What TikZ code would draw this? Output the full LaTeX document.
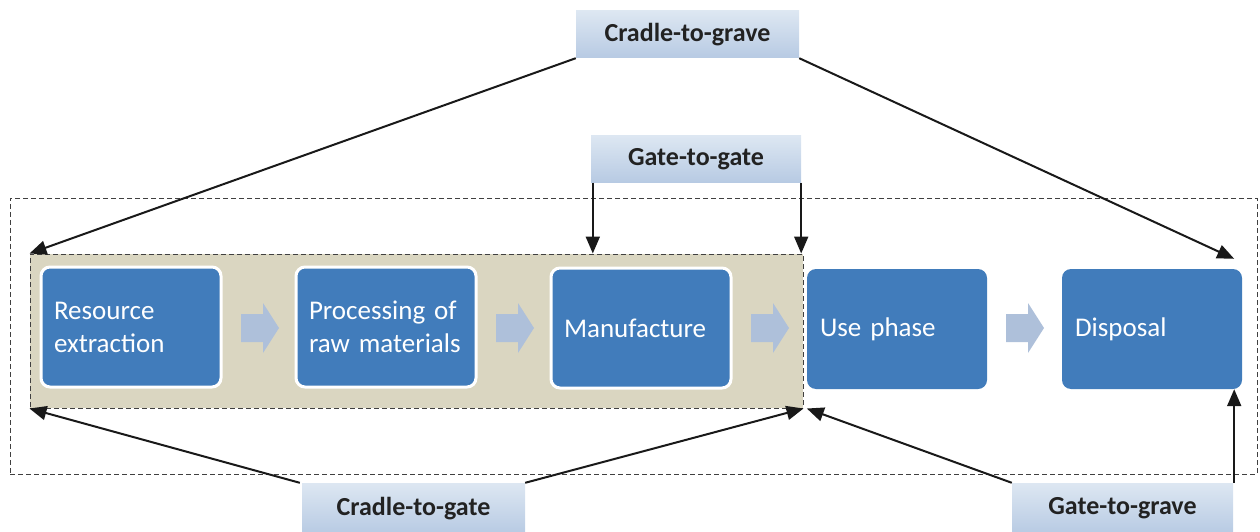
\documentclass[tikz,border=0pt]{standalone}
\usepackage{fontspec}
\setmainfont[WordSpace=0.8]{Carlito}
\usetikzlibrary{arrows.meta,calc}
\definecolor{boxblue}{HTML}{417CBB}
\definecolor{arrblue}{HTML}{AEC0DA}
\definecolor{tanfill}{HTML}{DAD6C1}
\definecolor{lbltop}{HTML}{DDE7F2}
\definecolor{lblbot}{HTML}{B7CAE3}
\definecolor{lbltext}{HTML}{222222}
\definecolor{dashgray}{HTML}{404040}
\tikzset{
  stagebox/.style={rectangle, rounded corners=9pt, fill=boxblue, text=white,
    minimum width=180pt, minimum height=120pt, text width=154pt, inner xsep=13pt,
    align=left, font=\fontsize{27}{33}\selectfont},
  whiteedge/.style={draw=white, line width=3pt},
  lblbox/.style={rectangle, top color=lbltop, bottom color=lblbot, draw=none,
    minimum width=223pt, minimum height=47pt, text=lbltext,
    font=\fontsize{26}{30}\selectfont\bfseries},
  dashbox/.style={rectangle, draw=dashgray, dash pattern=on 5pt off 3pt, line width=1pt},
  conn/.style={draw=black!90, line width=2pt, -{Triangle[length=17pt,width=14pt]}},
  blockarrow/.style={fill=arrblue}
}
\begin{document}
\begin{tikzpicture}[x=1pt,y=-1pt]
\useasboundingbox (0,0) rectangle (1260,532);
% outer dashed frame
\node[dashbox, minimum width=1247pt, minimum height=276pt] (outer) at (633.5,336) {};
% inner tan frame
\node[dashbox, fill=tanfill, minimum width=773pt, minimum height=154pt] (inner) at (416.5,331) {};
% stages
\node[stagebox, whiteedge] (s1) at (131,327) {Resource\\extraction};
\node[stagebox, whiteedge] (s2) at (386,327) {Processing of\\raw materials};
\node[stagebox, whiteedge] (s3) at (641,328) {Manufacture};
\node[stagebox] (s4) at (897,329) {Use phase};
\node[stagebox] (s5) at (1152,329) {Disposal};
% block arrows
\foreach \cx in {260,515,770,1025}{
  \fill[blockarrow] (\cx-19,314) -- (\cx+3,314) -- (\cx+3,303) -- (\cx+19,328)
    -- (\cx+3,353) -- (\cx+3,342) -- (\cx-19,342) -- cycle;
}
% labels
\node[lblbox] (cgrave) at (687.5,34.5) {Cradle-to-grave};
\node[lblbox, minimum width=210pt] (ggate) at (696,159) {Gate-to-gate};
\node[lblbox, minimum height=51pt] (cgate) at (413.5,508.5) {Cradle-to-gate};
\node[lblbox, minimum width=221pt, minimum height=51pt] (ggrave) at (1122.5,508.5) {Gate-to-grave};
% connectors
\coordinate (dispTip) at ($(s5.north east)+(-8,-10)$);
\draw[conn] (cgrave.south west) -- (inner.north west);
\draw[conn] (cgrave.south east) -- (dispTip);
\draw[conn] ([xshift=2pt]ggate.south west) -- ([xshift=2pt]ggate.south west |- inner.north);
\draw[conn] (ggate.south east) -- (ggate.south east |- inner.north);
\draw[conn] ([xshift=-2pt]cgate.north west) -- (inner.south west);
\draw[conn] (cgate.north east) -- (inner.south east);
\draw[conn] (ggrave.north west) -- (s4.west |- inner.south);
\draw[conn] ([xshift=1pt]ggrave.north east) -- ([xshift=1pt]ggrave.north east |- s5.south);
\end{tikzpicture}
\end{document}
